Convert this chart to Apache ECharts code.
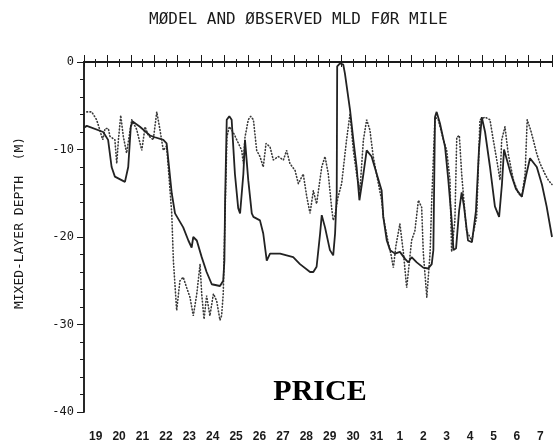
<!DOCTYPE html>
<html lang="en">
<head>
  <meta charset="UTF-8" />
  <title>Model and observed MLD for MILE</title>
  <script src="https://cdn.jsdelivr.net/npm/echarts@6.0.0/dist/echarts.min.js"></script>
</head>

<body style="margin: 0; background: #fff;">
  <div id="main" style="width: 558px; height: 447px;"></div>

  <script>
    // day labels along the bottom (one per day, centred in each day)
    const dayLabels = ["19", "20", "21", "22", "23", "24", "25", "26", "27", "28",
      "29", "30", "31", "1", "2", "3", "4", "5", "6", "7"];

    // model mixed-layer depth: [days since start of the 19th, depth in m]
    const modelMLD = [
      [0.00, -7.5], [0.12, -7.3], [0.82, -8.0], [1.03, -8.9], [1.18, -12.0], [1.32, -13.1],
      [1.75, -13.7], [1.82, -13.7], [1.89, -12.0], [2.00, -7.4], [2.08, -6.8], [2.39, -7.4],
      [2.82, -8.4], [3.03, -8.6], [3.39, -8.9], [3.53, -9.3], [3.75, -15.0], [3.89, -17.3],
      [4.24, -18.9], [4.46, -20.4], [4.60, -21.2], [4.67, -20.0], [4.82, -20.4], [5.03, -22.3],
      [5.24, -24.0], [5.46, -25.4], [5.81, -25.6], [5.95, -25.0], [6.00, -22.7], [6.03, -15.8],
      [6.10, -6.6], [6.21, -6.2], [6.31, -6.6], [6.45, -12.8], [6.59, -16.7], [6.67, -17.3],
      [6.81, -12.8], [6.88, -8.9], [7.02, -13.5], [7.17, -17.3], [7.24, -17.7], [7.52, -18.1],
      [7.66, -19.6], [7.81, -22.7], [7.95, -21.9], [8.38, -21.9], [8.94, -22.3], [9.23, -23.1],
      [9.66, -24.0], [9.80, -24.0], [9.94, -23.4], [10.09, -19.6], [10.16, -17.5], [10.30, -18.9],
      [10.51, -21.5], [10.65, -22.1], [10.73, -19.6], [10.80, -15.0], [10.82, -0.5], [10.94, -0.15],
      [11.08, -0.3], [11.15, -1.3], [11.37, -5.5], [11.51, -8.9], [11.65, -12.0], [11.77, -15.8],
      [11.94, -12.8], [12.08, -10.1], [12.29, -10.8], [12.51, -12.8], [12.72, -14.7], [12.79, -17.7],
      [12.94, -20.4], [13.08, -21.5], [13.29, -21.9], [13.50, -21.7], [13.72, -22.5], [13.86, -22.9],
      [14.00, -22.3], [14.22, -22.9], [14.50, -23.5], [14.71, -23.6], [14.86, -23.1], [14.93, -21.5],
      [15.00, -6.3], [15.07, -5.7], [15.21, -7.0], [15.43, -9.7], [15.57, -13.5], [15.71, -18.0],
      [15.79, -21.5], [15.90, -21.3], [16.03, -17.0], [16.14, -14.9], [16.24, -16.5], [16.41, -20.4],
      [16.58, -20.6], [16.75, -17.0], [16.88, -10.0], [17.00, -6.3], [17.14, -8.0], [17.35, -12.0],
      [17.56, -16.5], [17.74, -17.7], [17.86, -14.0], [17.95, -10.0], [18.21, -12.5], [18.46, -14.5],
      [18.71, -15.4], [18.89, -13.0], [19.06, -11.0], [19.35, -12.0], [19.57, -14.0], [19.77, -16.5],
      [20.00, -20.0]
    ];

    // observed mixed-layer depth
    const observedMLD = [
      [0.12, -5.7], [0.33, -5.7], [0.54, -6.6], [0.68, -7.8], [0.80, -8.9], [0.90, -7.6],
      [1.04, -7.6], [1.11, -8.5], [1.32, -8.9], [1.40, -11.6], [1.47, -8.9], [1.57, -6.1],
      [1.68, -8.5], [1.82, -10.4], [1.90, -10.4], [2.04, -6.6], [2.25, -7.7], [2.47, -10.1],
      [2.61, -7.4], [2.75, -8.4], [2.96, -8.9], [3.11, -5.7], [3.25, -7.8], [3.39, -10.1],
      [3.53, -9.6], [3.63, -13.0], [3.75, -17.3], [3.82, -22.7], [3.96, -28.4], [4.10, -25.0],
      [4.24, -24.6], [4.39, -25.8], [4.53, -26.9], [4.67, -29.0], [4.82, -26.5], [4.96, -23.1],
      [5.03, -26.5], [5.13, -29.4], [5.24, -26.7], [5.38, -29.0], [5.53, -26.5], [5.67, -27.3],
      [5.81, -29.5], [5.88, -29.0], [5.95, -26.5], [6.05, -15.0], [6.11, -8.5], [6.21, -7.4],
      [6.37, -8.0], [6.53, -8.9], [6.74, -10.1], [6.81, -11.6], [6.88, -8.6], [7.02, -6.6],
      [7.12, -6.2], [7.24, -6.6], [7.38, -10.1], [7.52, -10.8], [7.66, -12.0], [7.78, -9.3],
      [7.95, -9.7], [8.09, -11.2], [8.30, -10.8], [8.52, -11.2], [8.66, -10.1], [8.80, -11.6],
      [9.02, -12.4], [9.16, -13.9], [9.37, -12.8], [9.52, -15.4], [9.66, -17.3], [9.80, -14.7],
      [9.94, -16.2], [10.16, -12.0], [10.30, -10.8], [10.44, -12.8], [10.58, -16.6], [10.65, -18.1],
      [10.73, -17.5], [10.85, -15.5], [11.01, -13.9], [11.22, -8.9], [11.37, -5.9], [11.51, -10.1],
      [11.65, -12.8], [11.79, -14.7], [11.94, -8.9], [12.08, -6.6], [12.22, -7.8], [12.36, -10.8],
      [12.58, -13.9], [12.72, -15.8], [12.79, -17.7], [12.99, -20.5], [13.12, -22.0], [13.22, -23.5],
      [13.33, -21.0], [13.50, -18.5], [13.65, -21.8], [13.79, -25.8], [14.00, -20.4], [14.14, -19.3],
      [14.29, -15.8], [14.43, -16.6], [14.50, -21.8], [14.65, -26.9], [14.79, -21.8], [14.86, -15.8],
      [15.00, -6.3], [15.14, -6.6], [15.36, -8.9], [15.50, -10.1], [15.64, -13.5], [15.71, -21.7],
      [15.85, -18.1], [15.93, -8.6], [16.04, -8.4], [16.14, -12.8], [16.28, -17.3], [16.35, -19.3],
      [16.57, -20.4], [16.78, -17.7], [16.92, -6.6], [17.14, -6.3], [17.35, -6.6], [17.49, -8.9],
      [17.64, -11.2], [17.78, -13.5], [17.85, -8.9], [17.99, -7.4], [18.13, -10.5], [18.35, -13.5],
      [18.56, -15.0], [18.71, -15.4], [18.85, -12.8], [18.94, -6.6], [19.09, -7.8], [19.20, -8.9],
      [19.35, -10.5], [19.49, -11.6], [19.70, -12.8], [19.84, -13.5], [20.00, -14.0]
    ];

    const ink = "#1a1a1a";
    const plotFont = "DejaVu Sans Mono";

    const chart = echarts.init(document.getElementById("main"));

    const option = {
      animation: false,
      backgroundColor: "#fff",
      title: {
        text: "MØDEL AND ØBSERVED MLD FØR MILE",
        left: 144,
        top: 7,
        textStyle: { fontFamily: plotFont, fontSize: 16, fontWeight: "normal", color: ink },
      },
      grid: { left: 84, right: 6, top: 62, bottom: 35 },
      xAxis: [
        {
          // data axis (bottom ticks every half day)
          type: "value",
          position: "bottom",
          min: 0,
          max: 20,
          interval: 0.5,
          axisLine: { lineStyle: { color: ink, width: 1.5 } },
          axisTick: { length: 5, lineStyle: { color: ink } },
          axisLabel: { show: false },
          splitLine: { show: false },
        },
        {
          // day labels
          type: "category",
          position: "bottom",
          data: dayLabels,
          boundaryGap: true,
          axisLine: { show: false },
          axisTick: { show: false },
          axisLabel: {
            margin: 19,
            fontFamily: "Liberation Sans",
            fontWeight: "bold",
            fontSize: 12,
            color: ink,
          },
        },
        {
          // top frame with day / half-day ticks
          type: "value",
          position: "top",
          min: 0,
          max: 20,
          interval: 1,
          axisLine: { lineStyle: { color: ink, width: 2 } },
          axisTick: { length: 7, lineStyle: { color: ink } },
          minorTick: { show: true, splitNumber: 2, length: 3, lineStyle: { color: ink } },
          axisLabel: { show: false },
          splitLine: { show: false },
        },
      ],
      yAxis: [
        {
          type: "value",
          position: "left",
          min: -40,
          max: 0,
          interval: 10,
          name: "MIXED-LAYER DEPTH  (M)",
          nameLocation: "middle",
          nameGap: 58,
          nameTextStyle: { fontFamily: plotFont, fontSize: 13, color: ink, padding: [0, 0, 0, 28] },
          axisLine: { lineStyle: { color: ink, width: 1.5 } },
          axisTick: { length: 7, lineStyle: { color: ink } },
          minorTick: { show: true, splitNumber: 5, length: 4, lineStyle: { color: ink } },
          axisLabel: { margin: 10, fontFamily: plotFont, fontSize: 12, color: ink },
          splitLine: { show: false },
        },
        {
          type: "value",
          position: "right",
          min: -40,
          max: 0,
          interval: 10,
          axisLine: { lineStyle: { color: ink, width: 1.5 } },
          axisTick: { inside: true, length: 6, lineStyle: { color: ink } },
          minorTick: { show: true, splitNumber: 5, length: 3, lineStyle: { color: ink } },
          axisLabel: { show: false },
          splitLine: { show: false },
        },
      ],
      graphic: [
        {
          type: "text",
          x: 320,
          y: 392,
          style: {
            text: "PRICE",
            font: "bold 30px 'Liberation Serif'",
            fill: "#000",
            align: "center",
            verticalAlign: "middle",
          },
        },
      ],
      series: [
        {
          name: "Observed",
          type: "line",
          xAxisIndex: 0,
          yAxisIndex: 0,
          data: observedMLD,
          symbol: "none",
          lineStyle: { color: "#3a3a3a", width: 1.6, type: [0.8, 2.4], cap: "round" },
        },
        {
          name: "Model",
          type: "line",
          xAxisIndex: 0,
          yAxisIndex: 0,
          data: modelMLD,
          symbol: "none",
          lineStyle: { color: "#222", width: 1.8 },
        },
      ],
    };

    chart.setOption(option);
  </script>
</body>

</html>
